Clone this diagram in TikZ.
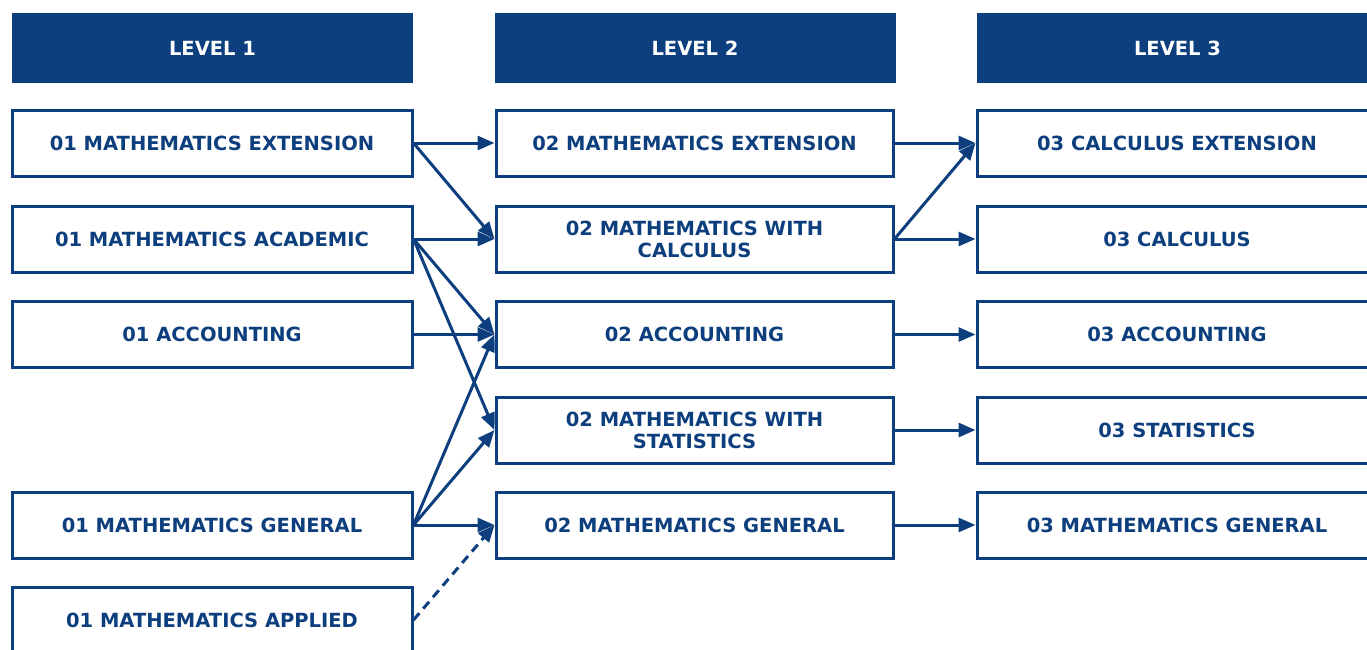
\documentclass[tikz,border=0pt]{standalone}
\usepackage{fontspec}
\setmainfont{DejaVu Sans}
\usetikzlibrary{arrows.meta}
\definecolor{navy}{HTML}{0D3F7E}
\begin{document}
\begin{tikzpicture}[x=1pt,y=-1pt,
  font=\fontsize{19.5}{22}\selectfont\bfseries,
  box/.style={draw=navy,line width=3pt,fill=white,text=navy,minimum width=400pt,minimum height=66pt,inner sep=0pt,align=center},
  head/.style={fill=navy,text=white,minimum width=401pt,minimum height=70pt,inner sep=0pt},
  link/.style={draw=navy,line width=3pt,-{Triangle[length=17pt,width=14pt]}},
  dlink/.style={link,dash pattern=on 9pt off 6pt}]
\useasboundingbox (0,0) rectangle (1367,649);
\clip (0,0) rectangle (1367,649);
\fill[white] (0,0) rectangle (1367,649);
% headers
\node[head] (h1) at (212.5,48) {LEVEL 1};
\node[head] (h2) at (695,48) {LEVEL 2};
\node[head] (h3) at (1177.5,48) {LEVEL 3};
% level 1
\node[box] (a1) at (212,143) {01 MATHEMATICS EXTENSION};
\node[box] (a2) at (212,239) {01 MATHEMATICS ACADEMIC};
\node[box] (a3) at (212,334.5) {01 ACCOUNTING};
\node[box] (a5) at (212,525) {01 MATHEMATICS GENERAL};
\node[box] (a6) at (212,620) {01 MATHEMATICS APPLIED};
% level 2
\node[box,minimum width=397pt] (b1) at (694.5,143) {02 MATHEMATICS EXTENSION};
\node[box,minimum width=397pt] (b2) at (694.5,239) {02 MATHEMATICS WITH\\CALCULUS};
\node[box,minimum width=397pt] (b3) at (694.5,334.5) {02 ACCOUNTING};
\node[box,minimum width=397pt] (b4) at (694.5,430) {02 MATHEMATICS WITH\\STATISTICS};
\node[box,minimum width=397pt] (b5) at (694.5,525) {02 MATHEMATICS GENERAL};
% level 3
\node[box] (c1) at (1177,143) {03 CALCULUS EXTENSION};
\node[box] (c2) at (1177,239) {03 CALCULUS};
\node[box] (c3) at (1177,334.5) {03 ACCOUNTING};
\node[box] (c4) at (1177,430) {03 STATISTICS};
\node[box] (c5) at (1177,525) {03 MATHEMATICS GENERAL};
% level 1 -> level 2
\draw[link] (a1.east) -- (b1.west);
\draw[link] (a1.east) -- (b2.west);
\draw[link] (a2.east) -- (b2.west);
\draw[link] (a2.east) -- (b3.west);
\draw[link] (a2.east) -- (b4.west);
\draw[link] (a3.east) -- (b3.west);
\draw[link] (a5.east) -- (b3.west);
\draw[link] (a5.east) -- (b4.west);
\draw[link] (a5.east) -- (b5.west);
\draw[dlink] (a6.east) -- (b5.west);
% level 2 -> level 3
\draw[link] (b1.east) -- (c1.west);
\draw[link] (b2.east) -- (c1.west);
\draw[link] (b2.east) -- (c2.west);
\draw[link] (b3.east) -- (c3.west);
\draw[link] (b4.east) -- (c4.west);
\draw[link] (b5.east) -- (c5.west);
\end{tikzpicture}
\end{document}
